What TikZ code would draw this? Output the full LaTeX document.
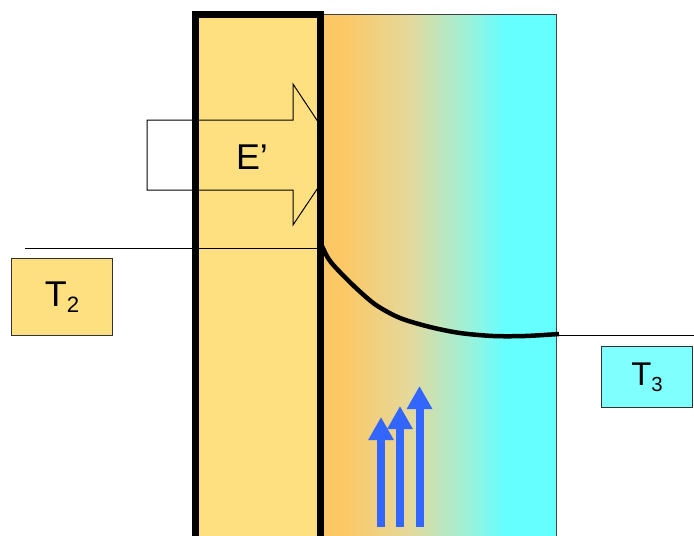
\documentclass[tikz,border=0pt]{standalone}
\usepackage{fontspec}
\setmainfont{Liberation Sans}
\usetikzlibrary{arrows.meta}

\definecolor{layerorange}{HTML}{FCC865}
\definecolor{layerbeige}{HTML}{E4D89C}
\definecolor{layermint}{HTML}{98F2DC}
\definecolor{layercyan}{HTML}{66FFFF}
\pgfdeclarehorizontalshading{layergradient}{100bp}{color(0bp)=(layerorange); color(30bp)=(layerorange); color(44bp)=(layerbeige); color(57bp)=(layermint); color(64bp)=(layercyan); color(100bp)=(layercyan)}

% index set lower and smaller, as in T2
\newcommand\lowidx[1]{\raisebox{-0.17em}{\scalebox{0.62}{#1}}}

\begin{document}
\begin{tikzpicture}[x=0.02cm,y=-0.02cm]
        \tikzset{>=Stealth}
        \tikzstyle{thinline}=[draw=black,line width=0.02cm]
        \tikzstyle{tempbox}=[draw=black!80,line width=0.02cm,inner sep=0pt,font=\fontsize{20.4}{24}\selectfont]
        \tikzstyle{flowarrow}=[draw=flowblue,line width=0.16cm,-{Triangle[length=0.46cm,width=0.48cm]}]

        \definecolor{wallyellow}{HTML}{FFE080}
        \definecolor{boxcyan}{HTML}{80FFFF}
        \definecolor{flowblue}{HTML}{3366FF}

        \useasboundingbox (0,0) rectangle (694,535);
        \clip (0,0) rectangle (694,535);

        % wall body, its border comes later
        \fill[wallyellow] (195,14) rectangle (320,540);
        \draw[thinline] (147,120) -- (293,120) -- (293,84) -- (340,155) -- (293,225) -- (293,190) -- (147,190) -- cycle;
        \node[font=\fontsize{20.4}{24}\selectfont] (eflux) at (252,157) {E'};

        % boundary layer
        \draw[draw=black!75,line width=0.02cm,shading=layergradient] (320,14) rectangle (556,540);
        \draw[line width=0.14cm] (195,14) rectangle (320,540);

        \coordinate (surf) at (320,248);
        \coordinate (bulk) at (556,335);
        \draw[thinline] (25,248) -- (surf);
        \draw[thinline] (bulk) -- (694,335);
        \draw[line width=0.09cm] plot[smooth,tension=0.5] coordinates {(322,246) (328,258) (336,268) (356,288) (376,305) (400,318) (430,327) (460,333) (493,336) (525,336) (559,334)};

        \node[tempbox,fill=wallyellow,minimum width=2.04cm,minimum height=1.55cm] (t2) at (62,297) {T\lowidx{2}};
        \node[tempbox,fill=boxcyan,minimum width=1.83cm,minimum height=1.23cm,font=\fontsize{18.7}{22}\selectfont] (t3) at (647,377) {T\lowidx{3}};

        \foreach \x/\y [count=\i] in {381/417, 400/406, 419.5/386} {
            \coordinate (foot\i) at (\x,527);
            \coordinate (head\i) at (\x,\y);
            \draw[flowarrow] (foot\i) -- (head\i);
        }
    \end{tikzpicture}
\end{document}
